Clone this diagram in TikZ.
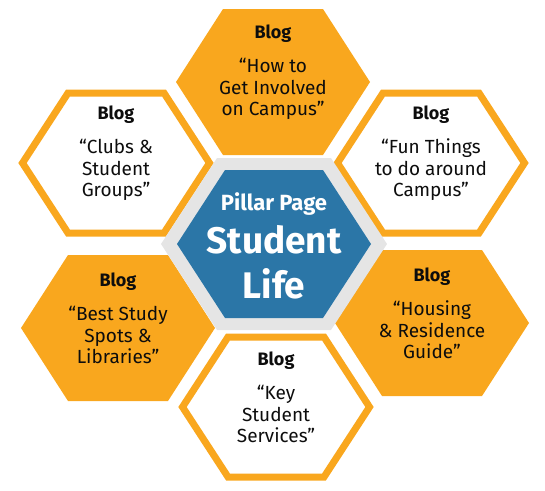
\documentclass[tikz,border=0pt]{standalone}
\usepackage{fontspec}
\setmainfont{Fira Sans}
\definecolor{hexorange}{rgb}{0.976, 0.655, 0.118}
\definecolor{hexblue}{rgb}{0.169, 0.463, 0.655}
\definecolor{hexgrey}{rgb}{0.898, 0.898, 0.898}
\definecolor{blogink}{rgb}{0.050, 0.050, 0.050}
\newlength{\du}
\setlength{\du}{1pt}
\tikzset{
  filledhex/.style={fill=hexorange},
  ringhex/.style={fill=white, draw=hexorange, line width=7\du, miter limit=10},
  blogtext/.style={align=center, text=blogink, font=\fontsize{19}{21.5}\selectfont},
  pillartext/.style={text=white, font=\fontsize{22}{24}\selectfont\bfseries},
  lifetext/.style={align=center, text=white, font=\fontsize{37}{45}\selectfont\bfseries}
}
\newcommand{\blogtitle}{{\fontsize{18}{21.5}\selectfont\bfseries Blog}\\[12.5\du]}
\begin{document}
\begin{tikzpicture}
\pgftransformxscale{1.000000}
\pgftransformyscale{-1.000000}
\useasboundingbox (0\du,0\du) rectangle (545\du,490\du);
% top
\fill[filledhex] (176\du,82\du)--(223\du,9\du)--(323\du,9\du)--(370\du,82\du)--(323\du,155\du)--(223\du,155\du)--cycle;
\node[blogtext] (howto) at (273\du,72.5\du){\blogtitle ``How to\\Get Involved\\on Campus''};
% top left
\filldraw[ringhex] (22.5\du,163\du)--(68\du,93\du)--(164\du,93\du)--(209.5\du,163\du)--(164\du,233\du)--(68\du,233\du)--cycle;
\node[blogtext] (clubs) at (116\du,153.5\du){\blogtitle ``Clubs \&\\Student\\Groups''};
% top right
\filldraw[ringhex] (337.5\du,163\du)--(383\du,93\du)--(479\du,93\du)--(524.5\du,163\du)--(479\du,233\du)--(383\du,233\du)--cycle;
\node[blogtext] (funthings) at (431\du,153.5\du){\blogtitle ``Fun Things\\to do around\\Campus''};
% bottom right
\fill[filledhex] (335\du,323\du)--(382\du,250\du)--(482\du,250\du)--(529\du,323\du)--(482\du,396\du)--(382\du,396\du)--cycle;
\node[blogtext] (housing) at (432\du,313.5\du){\blogtitle ``Housing\\\& Residence\\Guide''};
% bottom left
\fill[filledhex] (21\du,328\du)--(68\du,255\du)--(168\du,255\du)--(215\du,328\du)--(168\du,401\du)--(68\du,401\du)--cycle;
\node[blogtext] (studyspots) at (118\du,318.5\du){\blogtitle ``Best Study\\Spots \&\\Libraries''};
% bottom
\filldraw[ringhex] (182.5\du,407\du)--(228\du,337\du)--(324\du,337\du)--(369.5\du,407\du)--(324\du,477\du)--(228\du,477\du)--cycle;
\node[blogtext] (services) at (276\du,397.5\du){\blogtitle ``Key\\Student\\Services''};
% pillar page
\fill[hexgrey] (161\du,244\du)--(217\du,158\du)--(331\du,158\du)--(387\du,244\du)--(331\du,330\du)--(217\du,330\du)--cycle;
\fill[hexblue] (177\du,244\du)--(225\du,170\du)--(323\du,170\du)--(371\du,244\du)--(323\du,318\du)--(225\du,318\du)--cycle;
\node[pillartext, anchor=base] (pillar) at (274\du,210\du){Pillar Page};
\node[lifetext, anchor=base] (studentlife) at (274\du,298\du){Student\\Life};
\end{tikzpicture}
\end{document}
